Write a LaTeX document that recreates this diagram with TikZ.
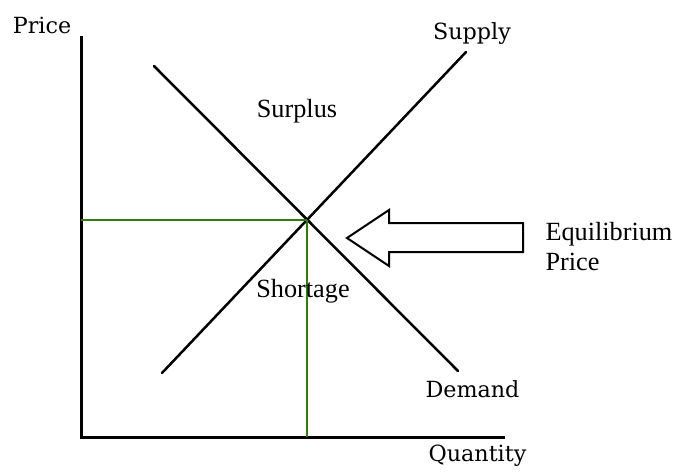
\documentclass[tikz,border=0pt]{standalone}
\usepackage{fontspec}
\setmainfont{Liberation Serif}
\newfontfamily\slabfont{DejaVu Serif}
\usetikzlibrary{calc}
\definecolor{guidegreen}{RGB}{50,125,10}

\begin{document}
\begin{tikzpicture}[x=0.4pt,y=-0.4pt]
      \tikzstyle{every node}+=[inner sep=0pt]
      \tikzset{
        axis/.style={black, line width=1.2pt, line join=miter},
        curve/.style={black, line width=1pt, line cap=round},
        guide/.style={guidegreen, line width=0.7pt},
        slab/.style={font=\slabfont\fontsize{8.9}{10}\selectfont, anchor=base},
        plain/.style={font=\fontsize{10.5}{12}\selectfont, anchor=base}
      }
      \useasboundingbox (0,0) rectangle (675,473);
      % axes
      \coordinate (top) at (81,36);
      \coordinate (origin) at (81,437);
      \coordinate (right) at (505,437);
      \draw [axis] (top) -- (origin) -- (right);
      % curves
      \coordinate (s1) at (162,373);
      \coordinate (s2) at (466,52);
      \coordinate (d1) at (154,66);
      \coordinate (d2) at (458,371);
      \draw [curve] (s1) -- (s2);
      \draw [curve] (d1) -- (d2);
      \coordinate (eq) at (intersection of s1--s2 and d1--d2);
      % equilibrium guides
      \draw [guide] (eq) -- (eq -| origin);
      \draw [guide] (eq) -- (eq |- origin);
      % block arrow
      \draw [black, line width=0.8pt, line join=miter]
        (347,238) -- (389,210) -- (389,223) -- (523,223) -- (523,252)
        -- (389,252) -- (389,266) -- cycle;
      % labels
      \node [slab] (price) at (42,34) {Price};
      \node [slab] (supply) at (472,40) {Supply};
      \node [slab] (demand) at (472.5,397) {Demand};
      \node [slab] (quantity) at (477.5,461) {Quantity};
      \node [plain] (surplus) at (297,117) {Surplus};
      \node [plain] (shortage) at (303,297) {Shortage};
      \node [plain, anchor=base west] (eqlabel) at (545,240) {Equilibrium};
      \node [plain, anchor=base west] (eqprice) at (545,270) {Price};
\end{tikzpicture}
\end{document}
